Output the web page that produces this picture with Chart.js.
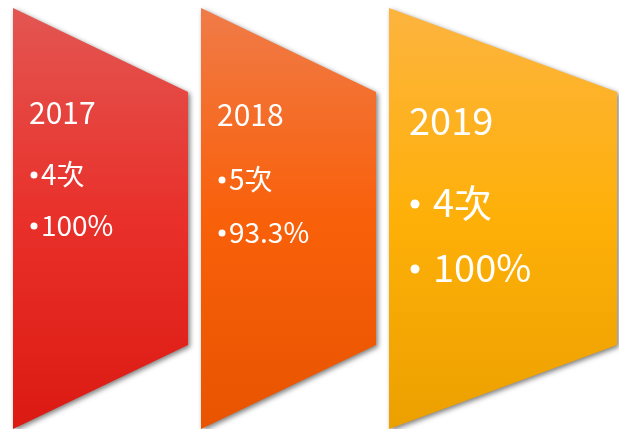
<!DOCTYPE html>
<html>
<head>
<meta charset="utf-8">
<script src="https://cdn.jsdelivr.net/npm/chart.js@4.4.1/dist/chart.umd.min.js"></script>
<style>
  html, body { margin: 0; padding: 0; background: #fff; }
  #wrap { width: 619px; height: 429px; position: relative; }
</style>
</head>
<body>
<div id="wrap"><canvas id="chart"></canvas></div>
<script>
// 年份
const years = ['2017', '2018', '2019'];
// 次數
const counts = [4, 5, 4];
// 百分比
const rates = [100, 93.3, 100];
// 每個區塊由底到頂 (滿版)
const bands = [[0, 1], [0, 1], [0, 1]];

//-----------------------------------------------------------------
// 樣式 (不是資料)
const FONT = '"Noto Sans CJK TC", "Noto Sans", sans-serif';
const shapeWidths = [175, 175, 228];
const slant = 84; // 右邊上下縮進
const gradients = [
  ['#e35652', '#e9302a', '#db1a12'],
  ['#f07b48', '#f9600a', '#e85400'],
  ['#fdb43f', '#feb008', '#eca000']
];
const textLayout = [
  { titleSize: 30, itemSize: 28, padX: 16, dotX: 21, dotR: 3.5, dotUp: 10, itemX: 28, rows: [116, 177, 228] },
  { titleSize: 30, itemSize: 28, padX: 16, dotX: 21, dotR: 3.5, dotUp: 10, itemX: 28, rows: [118, 182, 235] },
  { titleSize: 38, itemSize: 38, padX: 20, dotX: 26, dotR: 4.5, dotUp: 13, itemX: 44, rows: [127, 209, 274] }
];

// 畫梯形
const trapezoidPlugin = {
  id: 'trapezoids',
  beforeDatasetsDraw(chart) {
    const ctx = chart.ctx;
    const meta = chart.getDatasetMeta(0);
    meta.data.forEach((bar, i) => {
      const p = bar.getProps(['x', 'y', 'base', 'width'], true);
      const left = p.x - p.width / 2;
      const right = left + shapeWidths[i];
      const top = p.y;
      const bottom = p.base;

      const g = ctx.createLinearGradient(0, top, 0, bottom);
      g.addColorStop(0, gradients[i][0]);
      g.addColorStop(0.5, gradients[i][1]);
      g.addColorStop(1, gradients[i][2]);

      ctx.save();
      ctx.beginPath();
      ctx.moveTo(left, top);
      ctx.lineTo(right, top + slant);
      ctx.lineTo(right, bottom - slant);
      ctx.lineTo(left, bottom);
      ctx.closePath();
      ctx.shadowColor = 'rgba(0,0,0,0.5)';
      ctx.shadowBlur = 5;
      ctx.shadowOffsetX = 2;
      ctx.shadowOffsetY = 2;
      ctx.fillStyle = g;
      ctx.fill();
      ctx.restore();
    });
  },
  // 文字
  afterDatasetsDraw(chart) {
    const ctx = chart.ctx;
    const meta = chart.getDatasetMeta(0);
    meta.data.forEach((bar, i) => {
      const p = bar.getProps(['x', 'y', 'width'], true);
      const left = p.x - p.width / 2;
      const t = textLayout[i];
      ctx.save();
      ctx.fillStyle = '#ffffff';
      ctx.textAlign = 'left';
      ctx.textBaseline = 'alphabetic';
      ctx.font = t.titleSize + 'px ' + FONT;
      ctx.fillText(years[i], left + t.padX, p.y + t.rows[0]);
      ctx.font = t.itemSize + 'px ' + FONT;
      const items = [counts[i] + '次', rates[i] + '%'];
      items.forEach((txt, k) => {
        const y = p.y + t.rows[k + 1];
        // 項目符號
        ctx.beginPath();
        ctx.arc(left + t.dotX, y - t.dotUp, t.dotR, 0, Math.PI * 2);
        ctx.fill();
        ctx.fillText(txt, left + t.itemX, y);
      });
      ctx.restore();
    });
  }
};

new Chart(document.getElementById('chart'), {
  type: 'bar',
  data: {
    labels: years,
    datasets: [{
      data: bands,
      backgroundColor: 'rgba(0,0,0,0)',
      barThickness: 175
    }]
  },
  plugins: [trapezoidPlugin],
  options: {
    responsive: true,
    maintainAspectRatio: false,
    animation: false,
    layout: { padding: { left: 6.5, right: 48.5, top: 8, bottom: 0 } },
    plugins: {
      legend: { display: false },
      tooltip: { enabled: false }
    },
    scales: {
      x: { display: false },
      y: { display: false, min: 0, max: 1 }
    }
  }
});
</script>
</body>
</html>
